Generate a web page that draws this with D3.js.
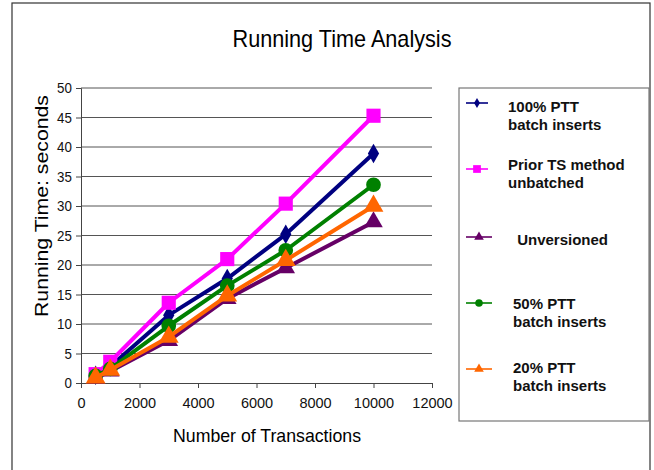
<!DOCTYPE html>
<html>
<head>
<meta charset="utf-8">
<script src="https://cdn.jsdelivr.net/npm/d3@7"></script>
<style>
  body { margin: 0; background: #fff; }
  svg { display: block; font-family: "Liberation Sans", Arial, sans-serif; }
</style>
</head>
<body>
<div id="chart"></div>
<script>
const transactions = [500, 1000, 3000, 5000, 7000, 10000];
const ptt100 = [1.3, 2.8, 11.5, 17.7, 25.2, 38.9];
const priorTS = [1.5, 3.6, 13.6, 21.0, 30.4, 45.3];
const unversioned = [0.8, 2.0, 7.2, 14.3, 19.5, 27.3];
const ptt50 = [1.2, 2.4, 9.7, 16.5, 22.5, 33.6];
const ptt20 = [0.9, 2.2, 7.8, 14.8, 20.8, 30.0];
const xTicks = [0, 2000, 4000, 6000, 8000, 10000, 12000];
const yTicks = [0, 5, 10, 15, 20, 25, 30, 35, 40, 45, 50];

const series = [
  { label: ['100% PTT', 'batch inserts'], values: ptt100, color: '#000080', symbol: d3.symbolDiamond, size: 110, legendSize: 30 },
  { label: ['Prior TS method', 'unbatched'], values: priorTS, color: '#ff00ff', symbol: d3.symbolSquare, size: 200, legendSize: 60 },
  { label: [' Unversioned'], values: unversioned, color: '#660066', symbol: d3.symbolTriangle, size: 150, legendSize: 40 },
  { label: ['50% PTT', 'batch inserts'], values: ptt50, color: '#008000', symbol: d3.symbolCircle, size: 170, legendSize: 45 },
  { label: ['20% PTT', 'batch inserts'], values: ptt20, color: '#ff6600', symbol: d3.symbolTriangle, size: 170, legendSize: 40 }
];

const W = 654, H = 470;
const plot = { left: 81, right: 432, top: 88, bottom: 383 };

const svg = d3.select('#chart').append('svg').attr('width', W).attr('height', H);

// outer frame
svg.append('rect')
  .attr('x', 12).attr('y', 3).attr('width', 638).attr('height', 480)
  .attr('fill', 'none').attr('stroke', '#333').attr('stroke-width', 1.2);

const x = d3.scaleLinear().domain([0, 12000]).range([plot.left, plot.right]);
const y = d3.scaleLinear().domain([0, 50]).range([plot.bottom, plot.top]);

// title
svg.append('text')
  .attr('x', 342).attr('y', 47)
  .attr('text-anchor', 'middle')
  .attr('font-size', 24)
  .attr('textLength', 219).attr('lengthAdjust', 'spacingAndGlyphs')
  .attr('fill', '#000')
  .text('Running Time Analysis');

// gridlines
svg.append('g')
  .selectAll('line')
  .data(yTicks.filter(d => d > 0))
  .enter()
  .append('line')
  .attr('x1', plot.left).attr('x2', plot.right)
  .attr('y1', d => y(d)).attr('y2', d => y(d))
  .attr('stroke', '#555').attr('stroke-width', 1);

// axes
const yAxis = svg.append('g')
  .attr('transform', `translate(${plot.left},0)`)
  .call(d3.axisLeft(y).tickValues(yTicks).tickSize(5).tickPadding(4));
const xAxis = svg.append('g')
  .attr('transform', `translate(0,${plot.bottom})`)
  .call(d3.axisBottom(x).tickValues(xTicks).tickSize(5).tickPadding(10).tickFormat(d3.format('d')));

[yAxis, xAxis].forEach(g => {
  g.select('.domain').attr('stroke', '#444');
  g.selectAll('.tick line').attr('stroke', '#444');
  g.selectAll('.tick text')
    .attr('font-size', 14.5)
    .attr('font-family', '"Liberation Sans", Arial, sans-serif')
    .attr('fill', '#111');
});
yAxis.selectAll('.tick text').attr('transform', 'scale(0.92,1)').attr('x', -10);

// axis titles
svg.append('text')
  .attr('transform', 'translate(48,206) rotate(-90)')
  .attr('text-anchor', 'middle')
  .attr('font-size', 18)
  .attr('textLength', 222).attr('lengthAdjust', 'spacingAndGlyphs')
  .text('Running Time: seconds');

svg.append('text')
  .attr('x', 267).attr('y', 442)
  .attr('text-anchor', 'middle')
  .attr('font-size', 18.5)
  .attr('textLength', 188).attr('lengthAdjust', 'spacingAndGlyphs')
  .text('Number of Transactions');

// lines and markers
const line = d3.line()
  .x((d, i) => x(transactions[i]))
  .y(d => y(d));

series.forEach(s => {
  const g = svg.append('g');
  g.append('path')
    .attr('d', line(s.values))
    .attr('fill', 'none')
    .attr('stroke', s.color)
    .attr('stroke-width', 4)
    .attr('stroke-linejoin', 'round');
  g.selectAll('path.marker')
    .data(s.values)
    .enter()
    .append('path')
    .attr('class', 'marker')
    .attr('transform', (d, i) => `translate(${x(transactions[i])},${y(d)})`)
    .attr('d', d3.symbol().type(s.symbol).size(s.size))
    .attr('fill', s.color);
});

// legend
const legend = svg.append('g');
legend.append('rect')
  .attr('x', 459).attr('y', 88).attr('width', 190).attr('height', 333)
  .attr('fill', '#fff').attr('stroke', '#777').attr('stroke-width', 1.2);

const legendY = [103, 169, 237, 303, 369];
const textX = [508, 508, 513, 513, 513];
const textY = [112, 170, 245, 309, 373];

series.forEach((s, i) => {
  const cy = legendY[i];
  legend.append('line')
    .attr('x1', 466).attr('x2', i < 2 ? 488 : 492)
    .attr('y1', cy).attr('y2', cy)
    .attr('stroke', s.color).attr('stroke-width', 1.6);
  legend.append('path')
    .attr('transform', `translate(${i < 2 ? 477 : 479},${cy})`)
    .attr('d', d3.symbol().type(s.symbol).size(s.legendSize))
    .attr('fill', s.color);
  const t = legend.append('text')
    .attr('x', textX[i]).attr('y', textY[i])
    .attr('font-size', 15).attr('font-weight', 'bold')
    .attr('fill', '#111')
    .attr('xml:space', 'preserve');
  s.label.forEach((l, j) => {
    t.append('tspan').attr('x', textX[i]).attr('dy', j === 0 ? 0 : 18).text(l);
  });
});
</script>
</body>
</html>
